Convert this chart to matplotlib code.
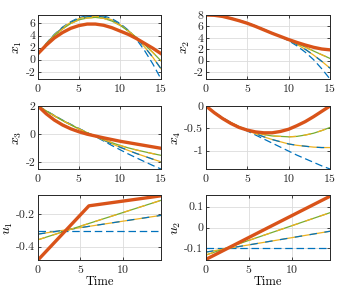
import numpy as np
import matplotlib
matplotlib.use("Agg")
import matplotlib.pyplot as plt

plt.rcParams['font.family'] = 'serif'
plt.rcParams['font.serif'] = ['cmr10', 'DejaVu Serif']
plt.rcParams['mathtext.fontset'] = 'cm'
plt.rcParams['axes.unicode_minus'] = False
plt.rcParams['axes.formatter.use_mathtext'] = True

BLUE, ORANGE, YELLOW, GREEN = '#0072BD', '#D95319', '#EDB120', '#77AC30'

# state trajectories, sampled at t = 0..15
t = np.arange(16)

x1_it0 = [1.0, 2.7, 4.2, 5.4, 6.3, 6.95, 7.3, 7.4, 7.25, 6.8, 6.0, 4.9, 3.4, 1.5, -0.7, -3.2]
x1_it1 = [1.0, 2.65, 4.1, 5.3, 6.2, 6.8, 7.1, 7.2, 7.05, 6.6, 5.8, 4.8, 3.6, 2.1, 0.4, -1.5]
x1_it2 = [1.0, 2.6, 4.0, 5.1, 6.0, 6.6, 6.9, 7.0, 6.85, 6.4, 5.7, 4.75, 3.7, 2.5, 1.2, -0.2]
x1_fin = [1.0, 2.4, 3.6, 4.5, 5.2, 5.65, 5.9, 5.9, 5.7, 5.3, 4.75, 4.2, 3.5, 2.7, 1.9, 1.0]

x2_it0 = [8.0, 7.95, 7.8, 7.5, 7.1, 6.65, 6.1, 5.5, 4.85, 4.2, 3.5, 2.6, 1.5, 0.2, -1.4, -3.2]
x2_it1 = [8.0, 7.95, 7.78, 7.45, 7.05, 6.6, 6.05, 5.45, 4.82, 4.22, 3.6, 2.85, 2.0, 1.0, -0.1, -1.3]
x2_it2 = [8.0, 7.95, 7.76, 7.42, 7.02, 6.57, 6.02, 5.42, 4.8, 4.23, 3.65, 3.0, 2.4, 1.7, 1.05, 0.4]
x2_fin = [8.0, 7.95, 7.75, 7.4, 7.0, 6.55, 6.0, 5.4, 4.8, 4.25, 3.7, 3.2, 2.75, 2.35, 2.05, 1.9]

x3_it0 = [2.0, 1.67, 1.33, 1.0, 0.7, 0.4, 0.12, -0.17, -0.48, -0.8, -1.1, -1.4, -1.68, -1.95, -2.22, -2.47]
x3_it1 = [2.0, 1.65, 1.3, 0.97, 0.67, 0.38, 0.1, -0.15, -0.42, -0.68, -0.92, -1.15, -1.37, -1.57, -1.77, -1.96]
x3_it2 = [2.0, 1.65, 1.3, 0.97, 0.66, 0.37, 0.1, -0.15, -0.38, -0.6, -0.8, -0.97, -1.12, -1.25, -1.38, -1.5]
x3_fin = [2.0, 1.45, 1.0, 0.65, 0.38, 0.17, 0.0, -0.13, -0.26, -0.38, -0.5, -0.6, -0.7, -0.8, -0.9, -1.0]

x4_it0 = [0.0, -0.14, -0.26, -0.37, -0.47, -0.56, -0.65, -0.74, -0.83, -0.92, -1.01, -1.1, -1.18, -1.26, -1.34, -1.41]
x4_it1 = [0.0, -0.15, -0.27, -0.38, -0.47, -0.55, -0.62, -0.69, -0.75, -0.8, -0.85, -0.88, -0.9, -0.92, -0.93, -0.93]
x4_it2 = [0.0, -0.15, -0.27, -0.37, -0.46, -0.53, -0.59, -0.64, -0.67, -0.68, -0.69, -0.68, -0.65, -0.61, -0.55, -0.48]
x4_fin = [0.0, -0.15, -0.28, -0.39, -0.48, -0.54, -0.58, -0.6, -0.6, -0.57, -0.52, -0.44, -0.35, -0.24, -0.12, 0.0]

# inputs
tu = [0, 14.5]
tu_fin = [0, 6, 14.5]
u1_it0 = [-0.3, -0.3]
u1_it1 = [-0.322, -0.206]
u1_it2 = [-0.357, -0.113]
u1_fin = [-0.482, -0.147, -0.085]

u2_it0 = [-0.1, -0.1]
u2_it1 = [-0.118, -0.018]
u2_it2 = [-0.132, 0.071]
u2_fin = [-0.153, 0.0, 0.15]
tu2_fin = [0, 7.3, 14.5]

W, H = 356, 288
fig = plt.figure(figsize=(W / 100, H / 100), dpi=100)


def make_ax(x0, x1, y0, y1):
    ax = fig.add_axes([x0 / W, 1 - y1 / H, (x1 - x0) / W, (y1 - y0) / H])
    ax.grid(True, color='#dcdcdc', lw=0.6)
    ax.set_axisbelow(True)
    for s in ax.spines.values():
        s.set_color('#262626')
        s.set_linewidth(0.7)
    ax.tick_params(direction='in', length=2.5, width=0.6, labelsize=8.5,
                   colors='#262626', top=True, right=True, pad=2)
    return ax


def draw(ax, tt, it0, it1, it2, tf, fin):
    ax.plot(tt, it0, color=BLUE, lw=0.9, dashes=(6, 3))
    ax.plot(tt, it1, color=YELLOW, lw=0.9)
    ax.plot(tt, it1, color=BLUE, lw=0.9, dashes=(6, 6))
    ax.plot(tt, it2, color=GREEN, lw=0.9)
    ax.plot(tt, it2, color=YELLOW, lw=0.9, dashes=(6, 6))
    ax.plot(tf, fin, color=ORANGE, lw=2.4)


cols = [(38, 161), (206, 330)]
rows = [(15, 79), (106, 169), (195, 260)]

states = [
    (x1_it0, x1_it1, x1_it2, x1_fin, (-3.2, 7.4), [-2, 0, 2, 4, 6], r'$x_1$'),
    (x2_it0, x2_it1, x2_it2, x2_fin, (-3.2, 8.0), [-2, 0, 2, 4, 6, 8], r'$x_2$'),
    (x3_it0, x3_it1, x3_it2, x3_fin, (-2.47, 2.0), [-2, 0, 2], r'$x_3$'),
    (x4_it0, x4_it1, x4_it2, x4_fin, (-1.41, 0.0), [-1, -0.5, 0], r'$x_4$'),
]

for k, (a, b, c, d, yl, yt, lab) in enumerate(states):
    r, cidx = divmod(k, 2)
    ax = make_ax(*cols[cidx], *rows[r])
    draw(ax, t, a, b, c, t, d)
    ax.set_xlim(0, 15)
    ax.set_xticks([0, 5, 10, 15])
    ax.set_ylim(*yl)
    ax.set_yticks(yt)
    ax.set_yticklabels([f'{v:g}' for v in yt])
    ax.set_ylabel(lab, fontsize=10, labelpad=1)

ax = make_ax(*cols[0], *rows[2])
draw(ax, tu, u1_it0, u1_it1, u1_it2, tu_fin, u1_fin)
ax.set_xlim(0, 14.5)
ax.set_xticks([0, 5, 10])
ax.set_ylim(-0.482, -0.08)
ax.set_yticks([-0.4, -0.2])
ax.set_yticklabels(['-0.4', '-0.2'])
ax.set_ylabel(r'$u_1$', fontsize=10, labelpad=1)
ax.set_xlabel('Time', fontsize=9, labelpad=1)

ax = make_ax(*cols[1], *rows[2])
draw(ax, tu, u2_it0, u2_it1, u2_it2, tu2_fin, u2_fin)
ax.set_xlim(0, 14.5)
ax.set_xticks([0, 5, 10])
ax.set_ylim(-0.156, 0.156)
ax.set_yticks([-0.1, 0, 0.1])
ax.set_yticklabels(['-0.1', '0', '0.1'])
ax.set_ylabel(r'$u_2$', fontsize=10, labelpad=1)
ax.set_xlabel('Time', fontsize=9, labelpad=1)

fig.savefig('out.png', dpi=100)
